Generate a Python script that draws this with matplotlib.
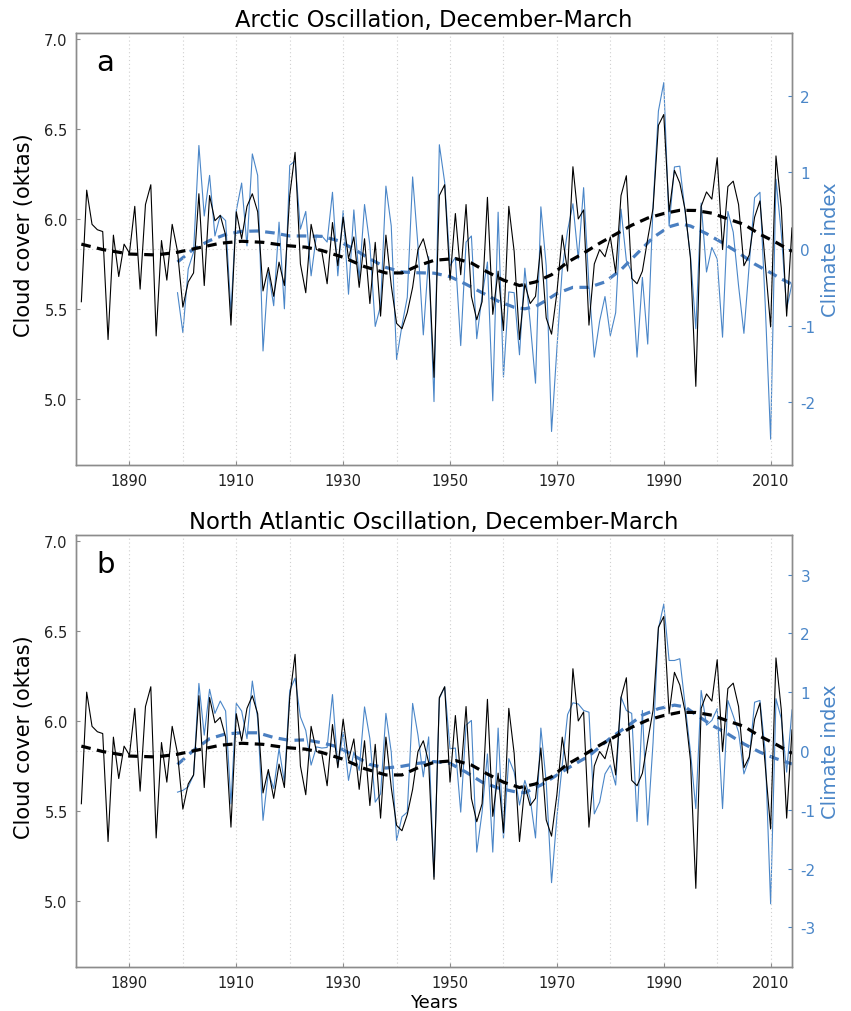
import matplotlib
matplotlib.use('Agg')
import matplotlib.pyplot as plt

# cloud cover (oktas), 1881-2014
cloud_years = list(range(1881, 2015))
cloud = [5.54, 6.16, 5.97, 5.94, 5.93, 5.33, 5.91, 5.68, 5.86, 5.81,
         6.07, 5.61, 6.08, 6.19, 5.35, 5.88, 5.66, 5.97, 5.82, 5.51,
         5.65, 5.70, 6.14, 5.63, 6.13, 5.99, 6.02, 5.91, 5.41, 6.04,
         5.89, 6.07, 6.14, 6.04, 5.60, 5.73, 5.57, 5.76, 5.63, 6.13,
         6.37, 5.75, 5.59, 5.97, 5.83, 5.82, 5.64, 5.98, 5.74, 6.01,
         5.78, 5.90, 5.62, 5.89, 5.53, 5.87, 5.46, 5.91, 5.63, 5.42,
         5.39, 5.48, 5.62, 5.83, 5.89, 5.77, 5.12, 6.13, 6.19, 5.66,
         6.03, 5.69, 6.08, 5.57, 5.44, 5.54, 6.12, 5.47, 5.71, 5.38,
         6.07, 5.82, 5.33, 5.64, 5.53, 5.57, 5.85, 5.45, 5.36, 5.59,
         5.91, 5.71, 6.29, 6.00, 6.05, 5.41, 5.75, 5.83, 5.79, 5.90,
         5.70, 6.13, 6.24, 5.67, 5.64, 5.71, 5.89, 6.06, 6.52, 6.58,
         6.04, 6.27, 6.20, 6.05, 5.78, 5.07, 6.07, 6.15, 6.11, 6.34,
         5.83, 6.18, 6.21, 6.08, 5.74, 5.80, 6.01, 6.10, 5.75, 5.40,
         6.35, 6.06, 5.46, 5.95]

# climate indices, 1899-2014
index_years = list(range(1899, 2015))
ao = [-0.57, -1.09, -0.26, -0.04, 1.35, 0.43, 0.96, 0.17, 0.44, 0.37,
      -0.83, 0.50, 0.86, 0.04, 1.24, 0.96, -1.33, -0.30, -0.74, 0.35,
      -0.78, 1.09, 1.15, 0.26, 0.49, -0.35, 0.18, 0.17, 0.09, 0.74,
      -0.35, 0.50, -0.59, 0.51, -0.40, 0.58, 0.05, -1.01, -0.74, 0.82,
      0.30, -1.44, -1.00, -0.63, 0.94, 0.04, -1.12, -0.10, -1.99, 1.36,
      0.87, -0.22, -0.11, -1.26, 0.09, 0.17, -1.17, -0.61, -0.17, -1.98,
      0.48, -1.67, -0.56, -0.57, -1.38, -0.25, -0.96, -1.75, 0.55, -0.22,
      -2.38, -1.30, -0.26, 0.24, 0.59, -0.13, 0.80, -0.48, -1.41, -0.94,
      -0.62, -1.13, -0.83, 0.52, -0.15, -0.30, -1.41, -0.37, -1.24, 0.57,
      1.80, 2.17, 0.30, 1.07, 1.08, 0.48, -0.09, -1.04, 0.60, -0.30,
      0.02, -0.13, -1.15, 0.49, 0.22, -0.48, -1.10, -0.20, 0.67, 0.74,
      -0.74, -2.48, 0.91, 0.20, -0.78, -0.45]
nao = [-0.70, -0.67, -0.61, -0.41, 1.15, 0.27, 1.05, 0.64, 0.85, 0.68,
       -0.90, 0.81, 0.68, 0.21, 1.19, 0.55, -1.18, -0.36, -0.64, 0.04,
       -0.53, 1.03, 1.24, 0.58, 0.35, -0.24, 0.07, 0.05, 0.06, 0.96,
       -0.27, 0.32, -0.50, -0.02, -0.33, 0.75, 0.21, -0.87, -0.73, 0.64,
       -0.02, -1.52, -1.12, -1.04, 0.81, 0.27, -0.44, 0.24, -2.14, 0.89,
       1.09, 0.04, 0.05, -1.04, 0.44, 0.52, -1.72, -1.04, -0.05, -1.72,
       0.39, -1.49, -0.13, -0.36, -0.92, -0.50, -0.81, -1.48, 0.39, -0.53,
       -2.24, -1.12, -0.24, 0.62, 0.82, 0.80, 0.69, 0.66, -1.07, -0.87,
       -0.39, -0.24, -0.58, 0.92, 0.69, 0.64, -1.20, 0.69, -1.26, 0.15,
       2.08, 2.50, 1.54, 1.54, 1.57, 0.78, -0.02, -0.98, 1.03, 0.44,
       0.52, 0.72, -0.98, 0.86, 0.60, 0.32, -0.39, -0.13, 0.83, 0.86,
       -0.02, -2.60, 0.89, 0.55, -0.36, 0.70]

# smoothed curves (dashed)
cloud_smooth_years = [1881, 1885, 1890, 1895, 1899, 1903, 1907, 1911, 1915, 1919,
                      1923, 1926, 1930, 1934, 1938, 1941, 1944, 1947, 1951, 1954,
                      1957, 1960, 1963, 1966, 1969, 1972, 1975, 1978, 1981, 1984,
                      1987, 1990, 1993, 1996, 1999, 2002, 2005, 2008, 2011, 2014]
cloud_smooth = [5.86, 5.83, 5.805, 5.80, 5.815, 5.84, 5.865, 5.876, 5.87, 5.853,
                5.843, 5.825, 5.787, 5.735, 5.70, 5.70, 5.74, 5.77, 5.78, 5.755,
                5.705, 5.66, 5.63, 5.65, 5.69, 5.76, 5.81, 5.865, 5.915, 5.965,
                6.005, 6.03, 6.048, 6.047, 6.032, 6.00, 5.97, 5.915, 5.87, 5.82]
ao_smooth_years = [1899, 1902, 1905, 1908, 1911, 1914, 1917, 1920, 1923, 1926,
                   1929, 1932, 1935, 1938, 1941, 1944, 1947, 1950, 1953, 1956,
                   1959, 1962, 1964, 1966, 1968, 1970, 1973, 1976, 1979, 1982,
                   1985, 1988, 1991, 1993, 1995, 1998, 2001, 2004, 2007, 2010,
                   2012, 2014]
ao_smooth = [-0.17, 0.0, 0.11, 0.19, 0.23, 0.235, 0.21, 0.17, 0.17, 0.165,
             0.11, 0.0, -0.13, -0.24, -0.30, -0.31, -0.315, -0.36, -0.46, -0.57,
             -0.68, -0.76, -0.78, -0.75, -0.67, -0.58, -0.50, -0.50, -0.43, -0.27,
             -0.06, 0.15, 0.29, 0.33, 0.30, 0.20, 0.08, -0.05, -0.195, -0.31,
             -0.39, -0.46]
nao_smooth_years = [1899, 1902, 1905, 1908, 1911, 1914, 1917, 1920, 1923, 1926,
                    1929, 1932, 1935, 1938, 1941, 1944, 1947, 1950, 1953, 1956,
                    1959, 1962, 1964, 1967, 1970, 1973, 1976, 1980, 1983, 1986,
                    1989, 1992, 1994, 1996, 1999, 2002, 2005, 2008, 2011, 2014]
nao_smooth = [-0.23, 0.01, 0.21, 0.29, 0.31, 0.31, 0.23, 0.18, 0.19, 0.14,
              0.07, -0.08, -0.23, -0.29, -0.26, -0.21, -0.18, -0.21, -0.36, -0.53,
              -0.63, -0.69, -0.71, -0.58, -0.41, -0.24, -0.085, 0.22, 0.41, 0.61,
              0.72, 0.78, 0.75, 0.62, 0.44, 0.29, 0.12, -0.02, -0.13, -0.22]

titles = ['Arctic Oscillation, December-March', 'North Atlantic Oscillation, December-March']
letters = ['a', 'b']

BLUE = '#4a86c8'
SPINE = '#8c8c8c'
GRID = '#cfcfcf'

plt.rcParams['font.family'] = 'DejaVu Sans'
plt.rcParams['axes.unicode_minus'] = False
fig = plt.figure(figsize=(8.51, 10.12), dpi=100)

panels = [
    (ao, ao_smooth_years, ao_smooth, 2.817, 1 - 466 / 1012),
    (nao, nao_smooth_years, nao_smooth, 3.675, 1 - 968 / 1012),
]

for i, (idx, sm_years, sm_vals, rlim, bottom) in enumerate(panels):
    ax = fig.add_axes([76 / 851, bottom, 716 / 851, 432 / 1012])
    ax2 = ax.twinx()

    ax.set_xlim(1880, 2014)
    ax.set_ylim(4.633, 7.033)
    ax2.set_ylim(-rlim, rlim)

    ax.set_xticks(range(1890, 2011, 20))
    ax.set_xticks(range(1890, 2011, 10), minor=True)
    ax.set_yticks([5.0, 5.5, 6.0, 6.5, 7.0])
    ax.set_yticklabels(['5.0', '5.5', '6.0', '6.5', '7.0'])
    ax.grid(True, which='both', axis='x', linestyle=(0, (1, 2.5)), color=GRID, linewidth=0.8)
    ax2.axhline(0, linestyle=(0, (1, 2.5)), color=GRID, linewidth=0.8, zorder=0)

    ax2.set_yticks(range(-int(rlim), int(rlim) + 1))

    ax.tick_params(axis='both', which='both', direction='in', length=3, width=0.8,
                   color=SPINE, labelsize=10.5, labelcolor='#222222', pad=6)
    ax.tick_params(axis='x', which='minor', length=0)
    ax2.tick_params(axis='y', direction='in', length=3, width=0.8, color=BLUE,
                    labelsize=11, labelcolor=BLUE, pad=6)
    for sp in list(ax.spines.values()) + list(ax2.spines.values()):
        sp.set_color(SPINE)
        sp.set_linewidth(1.0)

    # raw series
    ax.plot(cloud_years, cloud, color='black', linewidth=0.8, zorder=3)
    ax2.plot(index_years, idx, color=BLUE, linewidth=0.8, zorder=2)
    # smoothed
    ax.plot(cloud_smooth_years, cloud_smooth, color='black', linewidth=2.3,
            dashes=(3, 2), zorder=4)
    ax2.plot(sm_years, sm_vals, color='#4a7fc1', linewidth=2.3, dashes=(3, 2), zorder=3)

    ax.set_zorder(ax2.get_zorder() + 1)
    ax.patch.set_visible(False)

    ax.set_ylabel('Cloud cover (oktas)', fontsize=15, labelpad=7)
    ax.yaxis.set_label_coords(-0.058, 0.535)
    ax2.set_ylabel('Climate index', fontsize=14, color=BLUE, labelpad=4)
    ax.set_title(titles[i], fontsize=16.3, pad=5)
    ax.text(0.028, 0.965, letters[i], transform=ax.transAxes, fontsize=21,
            va='top', ha='left')

    if i == 1:
        ax.set_xlabel('Years', fontsize=13, labelpad=2)

plt.savefig('out.png', dpi=100)
plt.close()
